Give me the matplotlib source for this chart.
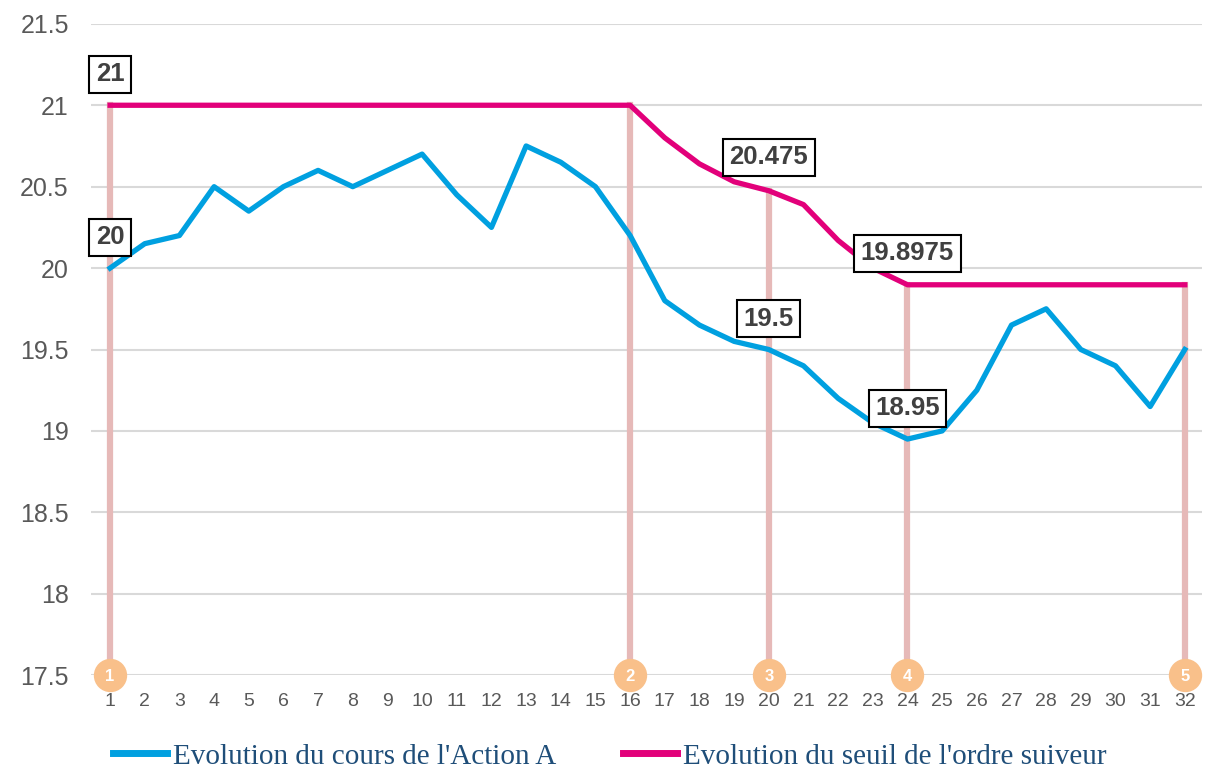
import matplotlib.pyplot as plt

jours = list(range(1, 33))
cours = [20, 20.15, 20.2, 20.5, 20.35, 20.5, 20.6, 20.5, 20.6, 20.7, 20.45, 20.25,
         20.75, 20.65, 20.5, 20.2, 19.8, 19.65, 19.55, 19.5, 19.4, 19.2, 19.05, 18.95,
         19.0, 19.25, 19.65, 19.75, 19.5, 19.4, 19.15, 19.5]
seuil = [21] * 16 + [20.8, 20.64, 20.53, 20.475, 20.39, 20.17, 20.0] + [19.8975] * 9

etapes_x = [1, 16, 20, 24, 32]
etapes_haut = [21, 21, 20.475, 19.8975, 19.8975]
etapes_num = ['1', '2', '3', '4', '5']

# étiquettes : (jour, valeur affichée, position y du cadre)
etiq_x = [1, 1, 20, 24, 20, 24]
etiq_txt = ['21', '20', '20.475', '19.8975', '19.5', '18.95']
etiq_y = [21.19, 20.19, 20.68, 20.09, 19.69, 19.14]

plt.rcParams['font.family'] = ['Liberation Sans', 'DejaVu Sans']

fig = plt.figure(figsize=(12.07, 7.69), dpi=100)
ax = fig.add_axes([0.0754, 0.122, 0.9206, 0.847])

ax.set_xlim(0.45, 32.5)
ax.set_ylim(17.5, 21.5)
ax.set_yticks([17.5, 18, 18.5, 19, 19.5, 20, 20.5, 21, 21.5])
ax.set_yticklabels(['17.5', '18', '18.5', '19', '19.5', '20', '20.5', '21', '21.5'])
ax.set_xticks(jours)
ax.grid(True, axis='y', color='#d9d9d9', lw=1.5)
ax.set_axisbelow(True)
for s in ax.spines.values():
    s.set_visible(False)
ax.tick_params(length=0)
ax.tick_params(axis='y', labelsize=18, labelcolor='#595959', pad=16)
ax.tick_params(axis='x', labelsize=14, labelcolor='#595959', pad=13)

for x, h in zip(etapes_x, etapes_haut):
    ax.plot([x, x], [17.5, h], color='#e6b9b8', lw=4.5, zorder=1)

l1, = ax.plot(jours, cours, color='#00a0e0', lw=3.8, zorder=3,
              label="Evolution du cours de l'Action A")
l2, = ax.plot(jours, seuil, color='#e2007a', lw=3.8, zorder=3,
              label="Evolution du seuil de l'ordre suiveur")

for x, n in zip(etapes_x, etapes_num):
    ax.plot(x, 17.5, 'o', ms=24, color='#f9c08a', clip_on=False, zorder=5,
            markeredgewidth=0)
    ax.text(x, 17.49, n, color='white', fontsize=12, fontweight='bold',
            ha='center', va='center', zorder=6, clip_on=False)

for x, t, y in zip(etiq_x, etiq_txt, etiq_y):
    ax.text(x, y, t, fontsize=18.5, fontweight='bold', color='#404040',
            ha='center', va='center', zorder=7,
            bbox=dict(boxstyle='square,pad=0.25', fc='white', ec='black', lw=1.5))

leg = fig.legend(handles=[l1, l2], loc='lower center', bbox_to_anchor=(0.505, -0.035),
                 ncol=2, frameon=False, handlelength=1.85, handletextpad=0.2,
                 columnspacing=2.3,
                 prop={'family': 'Liberation Serif', 'size': 21}, labelcolor='#1f4e79')
for h in leg.get_lines():
    h.set_linewidth(5)

fig.savefig('out.png', dpi=100)
